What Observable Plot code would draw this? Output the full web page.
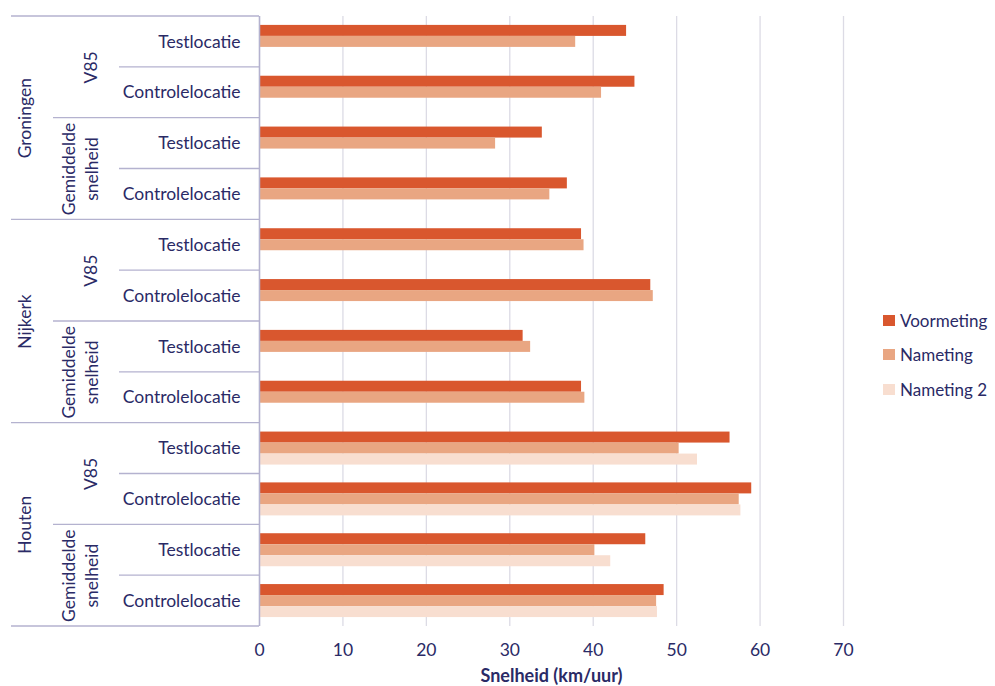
<!DOCTYPE html>
<html><head><meta charset="utf-8">
<script src="https://cdn.jsdelivr.net/npm/d3@7"></script>
<script src="https://cdn.jsdelivr.net/npm/@observablehq/plot@0.6"></script>
<style>
body{margin:0;background:#fff;font-family:Lato,"Open Sans",sans-serif;}
#wrap{position:relative;width:995px;height:686px;}
#legend{position:absolute;left:883px;top:303px;color:#2a2a66;font-size:17px;}
.item{display:flex;align-items:center;height:34.5px;}
.sw{width:12px;height:11px;margin-right:5px;}
</style></head><body><div id="wrap"><div id="legend"></div></div>
<script>
const cities = ["Groningen", "Nijkerk", "Houten"];
const measures = ["V85", "Gemiddelde\nsnelheid"];
const locations = ["Testlocatie", "Controlelocatie"];
const series = ["Voormeting", "Nameting", "Nameting 2"];
const colors = ["#d9572e", "#e9a682", "#f8ded0"];
// rows: Groningen V85 Test, Control, Gem Test, Control, Nijkerk ..., Houten ...
const voormeting = [44.0, 45.0, 33.9, 36.9, 38.6, 46.9, 31.6, 38.6, 56.4, 59.0, 46.3, 48.5];
const nameting   = [37.9, 41.0, 28.3, 34.8, 38.9, 47.2, 32.5, 39.0, 50.3, 57.5, 40.2, 47.6];
const nameting2  = [null, null, null, null, null, null, null, null, 52.5, 57.7, 42.1, 47.7];
const xTicks = [0, 10, 20, 30, 40, 50, 60, 70];
const xLabel = "Snelheid (km/uur)";

const rows = [];
cities.forEach((c, ci) => measures.forEach((m, mi) => locations.forEach((l, li) => {
  rows.push({key: `${ci}|${mi}|${li}`, city: c, measure: m, location: l, ci, mi, li, i: rows.length});
})));
const valuesBySeries = [voormeting, nameting, nameting2];
const bars = [];
valuesBySeries.forEach((vals, si) => vals.forEach((v, i) => {
  if (v != null) bars.push({key: rows[i].key, series: series[si], si, value: v});
}));

const W = 995, H = 686, mL = 259, mR = 152, mT = 16, mB = 60;
const step = (H - mT - mB) / rows.length;
const pad = 8.9, barH = 11;
const textColor = "#2a2a66";
const fs = 17.5;

const chart = Plot.plot({
  width: W, height: H,
  marginLeft: mL, marginRight: mR, marginTop: mT, marginBottom: mB,
  style: {fontFamily: "Lato, 'Open Sans', sans-serif", fontSize: fs + "px", color: textColor, background: "transparent"},
  x: {domain: [0, 70], label: null},
  y: {domain: rows.map(d => d.key), padding: 0, round: false, label: null},
  color: {domain: series, range: colors},
  marks: [
    Plot.gridX(xTicks, {stroke: "#dcdbe5", strokeOpacity: 1, strokeWidth: 1.3}),
    ...series.map((s, si) => Plot.barX(bars.filter(d => d.si === si), {
      x: "value", y: "key", fill: "series",
      insetTop: pad + si * barH, insetBottom: step - pad - (si + 1) * barH
    })),
    Plot.ruleX([0], {stroke: "#b4b2cf", strokeWidth: 1.5}),
    Plot.axisX(xTicks, {tickSize: 0, tickPadding: 17.5, fontSize: fs, label: null, fill: textColor}),
    Plot.axisY({tickSize: 0, tickPadding: 19, fontSize: fs, fill: textColor,
      tickFormat: k => rows.find(r => r.key === k).location, label: null}),
    Plot.text(rows.filter(r => r.mi === 0 && r.li === 1), {
      y: "key", text: "city", frameAnchor: "left", textAnchor: "middle",
      rotate: -90, dx: 25 - mL, dy: step / 2, fontSize: fs, fill: textColor
    }),
    Plot.text(rows.filter(r => r.mi === 0 && r.li === 0), {
      y: "key", text: "measure", frameAnchor: "left", textAnchor: "middle",
      rotate: -90, dx: 91 - mL, dy: step / 2, fontSize: fs, fill: textColor
    }),
    Plot.text(rows.filter(r => r.mi === 1 && r.li === 0), {
      y: "key", text: "measure", frameAnchor: "left", textAnchor: "middle", lineHeight: 23 / fs,
      rotate: -90, dx: 78.5 - mL, dy: step / 2, fontSize: fs, fill: textColor
    }),
    Plot.text([xLabel], {frameAnchor: "bottom", dy: 55, fontWeight: "bold", fontSize: 18, fill: textColor})
  ]
});

// separator lines of the grouped category axis, positioned with the chart's own scales
const ys = chart.scale("y");
const xs = chart.scale("x");
const x0 = xs.apply(0);
const svg = d3.select(chart.tagName.toLowerCase() === "svg" ? chart : chart.querySelector("svg"));
const g = svg.append("g").attr("stroke", "#b4b2cf").attr("stroke-width", 1.3);
rows.forEach(r => {
  const yTop = ys.apply(r.key);
  const left = r.i % 4 === 0 ? 11 : r.i % 4 === 2 ? 53 : 119;
  g.append("line").attr("x1", left).attr("x2", x0).attr("y1", yTop).attr("y2", yTop);
});
const yEnd = ys.apply(rows[rows.length - 1].key) + step;
g.append("line").attr("x1", 11).attr("x2", x0).attr("y1", yEnd).attr("y2", yEnd);

document.getElementById("wrap").prepend(chart);
const leg = document.getElementById("legend");
series.forEach((s, i) => {
  const it = document.createElement("div"); it.className = "item";
  const sw = document.createElement("span"); sw.className = "sw"; sw.style.background = colors[i];
  const t = document.createElement("span"); t.textContent = s;
  it.append(sw, t); leg.append(it);
});
</script></body></html>
